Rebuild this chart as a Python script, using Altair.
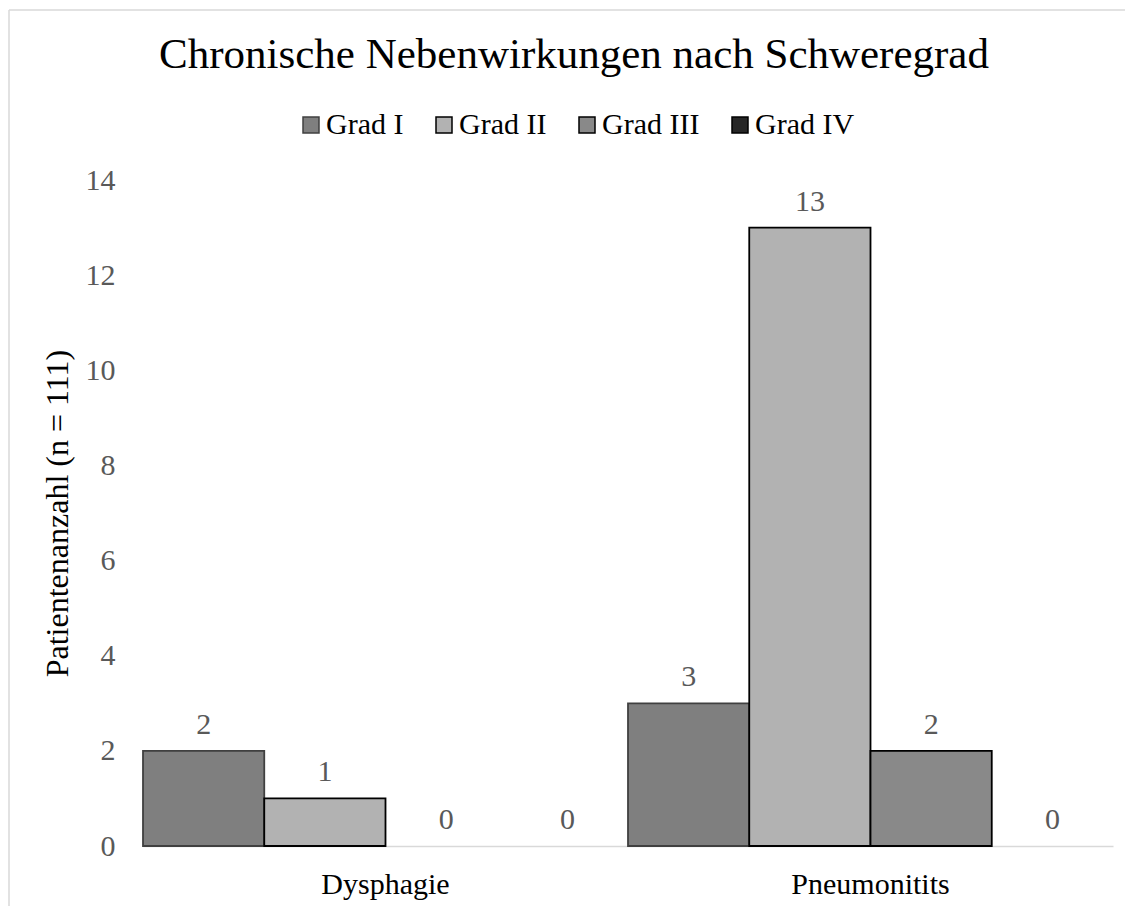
import altair as alt
import pandas as pd

categories = ["Dysphagie", "Pneumonitits"]
grades = ["Grad I", "Grad II", "Grad III", "Grad IV"]
grad_I = [2, 3]
grad_II = [1, 13]
grad_III = [0, 2]
grad_IV = [0, 0]

fills = ["#7f7f7f", "#b2b2b2", "#898989", "#262626"]
strokes = ["#404040", "#000000", "#000000", "#000000"]

rows = []
for gi, (g, vals) in enumerate(zip(grades, [grad_I, grad_II, grad_III, grad_IV])):
    for c, v in zip(categories, vals):
        rows.append({"Kategorie": c, "Grad": g, "Wert": v})
df = pd.DataFrame(rows)

SERIF = "'Liberation Serif', 'Times New Roman', Times, 'DejaVu Serif', serif"

x = alt.X("Kategorie:N", sort=categories, title=None,
          scale=alt.Scale(paddingInner=0, paddingOuter=0),
          axis=alt.Axis(labelAngle=0, labelFont=SERIF, labelFontSize=30,
                        labelColor="#000000", labelPadding=23, ticks=False,
                        domainColor="#d9d9d9", domainWidth=1.5, grid=False))
y = alt.Y("Wert:Q", title="Patientenanzahl (n = 111)",
          scale=alt.Scale(domain=[0, 14]),
          axis=alt.Axis(values=[0, 2, 4, 6, 8, 10, 12, 14], labelFont=SERIF,
                        labelFontSize=30, labelColor="#595959", labelPadding=28,
                        ticks=False, domain=False, grid=False,
                        titleFont=SERIF, titleFontSize=32, titleFontWeight="normal",
                        titleColor="#000000", titlePadding=11))
xoff = alt.XOffset("Grad:N", sort=grades, scale=alt.Scale(paddingInner=0, paddingOuter=0))

bars = alt.Chart(df).mark_bar(strokeWidth=1.8).encode(
    x=x, y=y, xOffset=xoff,
    color=alt.Color("Grad:N", sort=grades,
                    scale=alt.Scale(domain=grades, range=fills),
                    legend=alt.Legend(title=None, orient="none", direction="horizontal",
                                      legendX=153, legendY=-70,
                                      symbolType="square", symbolSize=256,
                                      symbolStrokeColor="#303030", symbolStrokeWidth=1.5,
                                      labelFont=SERIF, labelFontSize=30,
                                      labelColor="#000000", labelOffset=0,
                                      columnPadding=25)),
    stroke=alt.Stroke("Grad:N", sort=grades,
                      scale=alt.Scale(domain=grades, range=strokes), legend=None),
    strokeOpacity=alt.condition("datum.Wert > 0", alt.value(1), alt.value(0)),
)

labels = alt.Chart(df).mark_text(font=SERIF, fontSize=30, color="#595959",
                                 baseline="alphabetic", dy=-17).encode(
    x=alt.X("Kategorie:N", sort=categories), y=alt.Y("Wert:Q"), xOffset=xoff,
    text=alt.Text("Wert:Q"),
)

border_left = alt.Chart(pd.DataFrame({"a": [0]})).mark_rule(color="#d9d9d9", strokeWidth=1.5).encode(
    x=alt.value(-134), y=alt.value(-170), y2=alt.value(740))
border_top = alt.Chart(pd.DataFrame({"a": [0]})).mark_rule(color="#d9d9d9", strokeWidth=1.5).encode(
    x=alt.value(-134), x2=alt.value(990), y=alt.value(-170))

chart = alt.layer(border_left, border_top, bars, labels).properties(
    width=970, height=666,
    autosize=alt.AutoSizeParams(type="none"),
    padding={"left": 135, "top": 172, "right": 12, "bottom": 60},
    title=alt.TitleParams("Chronische Nebenwirkungen nach Schweregrad",
                          font=SERIF, fontSize=43, fontWeight="normal",
                          color="#000000", anchor="middle", frame="group",
                          baseline="alphabetic", offset=0, dy=102, dx=-54),
).configure_view(stroke=None)

chart.save("out.html", embed_options={"renderer": "svg", "actions": False})
